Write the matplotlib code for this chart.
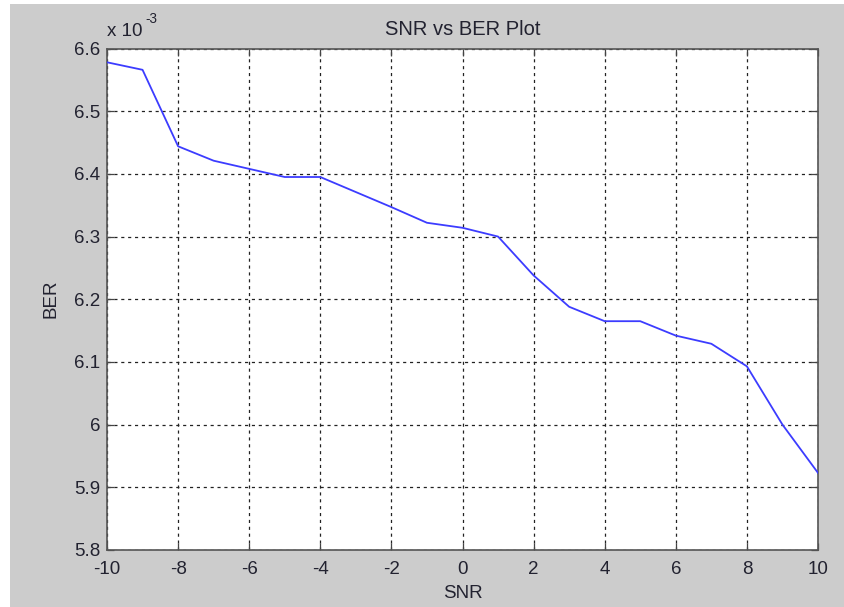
import matplotlib
matplotlib.use("Agg")
import matplotlib.pyplot as plt
from matplotlib.patches import Rectangle
from matplotlib.ticker import FuncFormatter
import numpy as np

snr = [-10, -9, -8, -7, -6, -5, -4, -3, -2, -1, 0, 1, 2, 3, 4, 5, 6, 7, 8, 9, 10]
ber_e3 = [6.578, 6.566, 6.444, 6.421, 6.408, 6.395, 6.395, 6.371, 6.347, 6.322,
          6.314, 6.300, 6.238, 6.188, 6.165, 6.165, 6.142, 6.129, 6.093, 6.000, 5.923]
xticks = [-10, -8, -6, -4, -2, 0, 2, 4, 6, 8, 10]
yticks_e3 = [5.8, 5.9, 6.0, 6.1, 6.2, 6.3, 6.4, 6.5, 6.6]

ber = np.array(ber_e3) * 1e-3

plt.rcParams['font.family'] = ['Liberation Sans', 'DejaVu Sans']
plt.rcParams['axes.unicode_minus'] = False
fs = 13.5
txtc = '#222230'

fig = plt.figure(figsize=(8.44, 6.07), dpi=100, facecolor='white')
fig.patches.append(Rectangle((10/844, 0), 1, 1 - 4/607, transform=fig.transFigure,
                             facecolor='#cccccc', edgecolor='none', zorder=-10))

ax = fig.add_axes([107/844, 1 - 550/607, (818-107)/844, (550-48.5)/607])
ax.set_facecolor('white')
ax.plot(snr, ber, color='#3c3cff', lw=1.3, zorder=3)
ax.set_xlim(-10, 10)
ax.set_ylim(5.8e-3, 6.6e-3)
ax.set_xticks(xticks)
ax.set_xticklabels([str(t) for t in xticks])
ax.set_yticks(np.array(yticks_e3) * 1e-3)
ax.yaxis.set_major_formatter(FuncFormatter(lambda v, p: '%g' % round(v * 1e3, 4)))
ax.grid(True, color='#222222', linestyle=(0, (2.5, 3)), linewidth=0.9)
ax.tick_params(direction='in', length=5, width=0.9, top=True, right=True,
               labelsize=fs, colors='#444444', labelcolor=txtc)
ax.tick_params(axis='x', pad=8)
ax.tick_params(axis='y', pad=5)
for s in ax.spines.values():
    s.set_color('#555555')
    s.set_linewidth(1.2)

ax.set_title('SNR vs BER Plot', fontsize=14.5, color=txtc, pad=10)
ax.set_xlabel('SNR', fontsize=fs, color=txtc, labelpad=5)
ax.set_ylabel('BER', fontsize=fs, color=txtc, labelpad=10)
ax.text(0.0, 1.016, 'x 10', transform=ax.transAxes, fontsize=fs,
        color=txtc, ha='left', va='bottom')
ax.text(0.0535, 1.045, '-3', transform=ax.transAxes, fontsize=fs * 0.72,
        color=txtc, ha='left', va='bottom')

fig.savefig('out.png', dpi=100, facecolor=fig.get_facecolor())
